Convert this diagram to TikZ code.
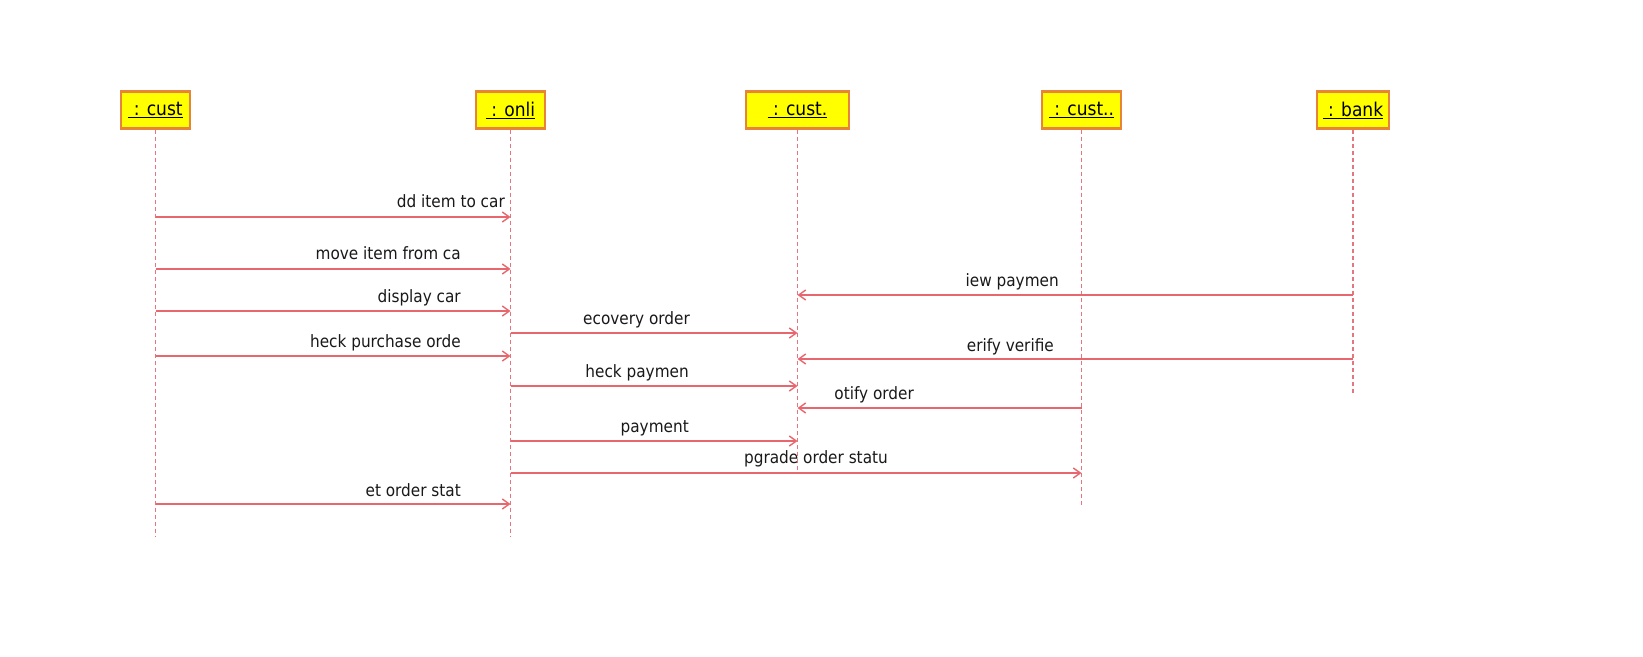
\documentclass[tikz,border=0pt]{standalone}
\usepackage{fontspec}
\setmainfont{DejaVu Sans Condensed}
\usetikzlibrary{arrows.meta}
\definecolor{msgcol}{HTML}{E8676F}
\definecolor{lifecol}{HTML}{E3767E}
\definecolor{boxline}{HTML}{E8843A}
\definecolor{boxfill}{HTML}{FFFF00}
\begin{document}
\begin{tikzpicture}[x=1pt,y=-1pt,
  obj/.style={draw=boxline, line width=2.2pt, fill=boxfill, minimum height=37pt,
    inner sep=0pt, font=\fontsize{19}{22}\selectfont},
  life/.style={draw=lifecol, line width=1.8pt, dash pattern=on 4pt off 3pt},
  msgline/.style={draw=msgcol, line width=1.8pt, -{Straight Barb[length=7pt,width=10pt,line width=1.4pt]}},
  lbl/.style={anchor=base east, inner sep=0pt, font=\fontsize{17}{20}\selectfont, text=black!90}]
\useasboundingbox (0,0) rectangle (1643,656);
\fill[white] (0,0) rectangle (1643,656);
% lifeline objects
\node[obj, minimum width=69pt] (A) at (155.5,110) {\underline{\ : cust}};
\node[obj, minimum width=69pt] (B) at (510.5,110) {\underline{\ : onli}};
\node[obj, minimum width=103pt] (C) at (797.5,110) {\underline{\ : cust.}};
\node[obj, minimum width=79pt] (D) at (1081.5,110) {\underline{\ : cust..}};
\node[obj, minimum width=72pt] (E) at (1353,110) {\underline{\ : bank}};
% lifeline ends
\coordinate (Aend) at (155.5,537);
\coordinate (Bend) at (510.5,537);
\coordinate (Cend) at (797.5,474);
\coordinate (Dend) at (1081.5,507);
\coordinate (Eend) at (1353,393);
\draw[life] (A.south) -- (Aend);
\draw[life] (B.south) -- (Bend);
\draw[life] (C.south) -- (Cend);
\draw[life] (D.south) -- (Dend);
\draw[life] (E.south) -- (Eend);
% messages
\foreach \n/\s/\t/\y in {1/A/B/217, 2/A/B/269, 3/A/B/311, 4/A/B/356,
    5/B/C/333, 6/B/C/386, 7/B/C/441, 8/B/D/473, 9/A/B/504,
    10/E/C/295, 11/E/C/359, 12/D/C/408}{
  \coordinate (m\n s) at (\s |- 0,\y);
  \coordinate (m\n t) at (\t |- 0,\y);
  \draw[msgline] (m\n s) -- (m\n t);
}
% labels
\node[lbl] (l1) at (505,207) {dd item to car};
\node[lbl] (l2) at (461,259) {move item from ca};
\node[lbl] (l3) at (461,302) {display car};
\node[lbl] (l4) at (461,347) {heck purchase orde};
\node[lbl] (l5) at (690,324) {ecovery order};
\node[lbl] (l6) at (689,377) {heck paymen};
\node[lbl] (l7) at (689,432) {payment};
\node[lbl] (l8) at (888,463) {pgrade order statu};
\node[lbl] (l9) at (461,496) {et order stat};
\node[lbl] (l10) at (1059,286) {iew paymen};
\node[lbl] (l11) at (1054,351) {erify verifie};
\node[lbl] (l12) at (914,399) {otify order};
\end{tikzpicture}
\end{document}
